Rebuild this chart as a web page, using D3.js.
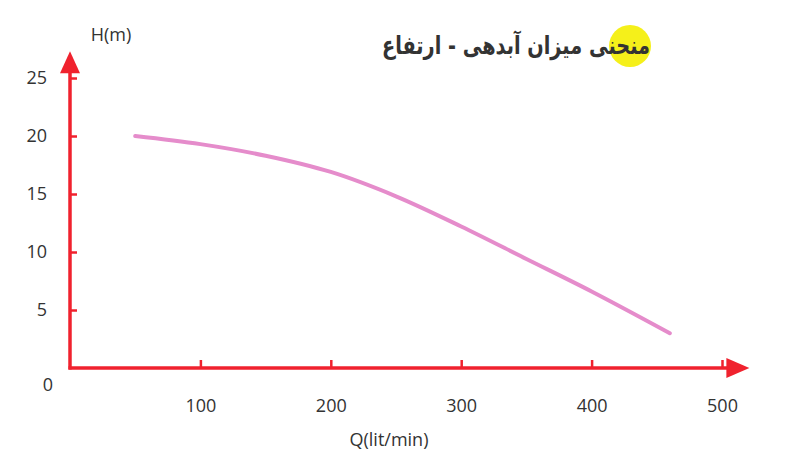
<!DOCTYPE html>
<html>
<head>
<meta charset="utf-8">
<script src="https://cdn.jsdelivr.net/npm/d3@7"></script>
<style>
  body { margin: 0; background: #fff; }
  svg text { font-family: "Open Sans", "Liberation Sans", sans-serif; fill: #333; }
</style>
</head>
<body>
<svg id="chart" width="787" height="462"></svg>
<script>
// pump curve
var flow = [50, 100, 150, 200, 250, 300, 350, 400, 460];
var head = [20, 19.3, 18.3, 16.9, 14.8, 12.2, 9.4, 6.6, 3.0];
var xTicks = [100, 200, 300, 400, 500];
var yTicks = [5, 10, 15, 20, 25];
var title = "منحنی میزان آبدهی - ارتفاع";

var svg = d3.select("#chart");
var red = "#f0222e";

var x = d3.scaleLinear().domain([0, 500]).range([70, 722]);
var y = d3.scaleLinear().domain([0, 25]).range([368, 78]);

// axes
svg.append("g")
    .attr("transform", "translate(" + x(0) + ",0)")
    .call(d3.axisLeft(y).tickValues(yTicks).tickSizeInner(-7).tickSizeOuter(0).tickPadding(23))
    .call(g => g.select(".domain").remove())
    .call(g => g.selectAll("line").attr("stroke", red).attr("stroke-width", 2.5))
    .call(g => g.selectAll("text").style("font-size", "18px").attr("fill", "#333"));

svg.append("g")
    .attr("transform", "translate(0," + y(0) + ")")
    .call(d3.axisBottom(x).tickValues(xTicks).tickSizeInner(-8).tickSizeOuter(0).tickPadding(31))
    .call(g => g.select(".domain").remove())
    .call(g => g.selectAll("line").attr("stroke", red).attr("stroke-width", 2.5))
    .call(g => g.selectAll("text").style("font-size", "18px").attr("fill", "#333"));

// axis lines with arrow heads
var x0 = x(0), y0 = y(0);
var yTop = y(27.3), xEnd = x(521);
svg.append("line").attr("x1", x0).attr("y1", y0 + 1.5).attr("x2", x0).attr("y2", yTop + 18)
    .attr("stroke", red).attr("stroke-width", 3.5);
svg.append("line").attr("x1", x0 - 1.5).attr("y1", y0).attr("x2", xEnd - 18).attr("y2", y0)
    .attr("stroke", red).attr("stroke-width", 3.5);
svg.append("path")
    .attr("d", "M" + x0 + "," + yTop + "L" + (x0 - 10) + "," + (yTop + 22) + "L" + (x0 + 10) + "," + (yTop + 22) + "Z")
    .attr("fill", red);
svg.append("path")
    .attr("d", "M" + xEnd + "," + y0 + "L" + (xEnd - 23) + "," + (y0 - 10) + "L" + (xEnd - 23) + "," + (y0 + 10) + "Z")
    .attr("fill", red);

svg.append("text").attr("x", 48).attr("y", 391).attr("text-anchor", "middle")
    .style("font-size", "18px").text("0");
svg.append("text").attr("x", 111).attr("y", 41).attr("text-anchor", "middle")
    .style("font-size", "18px").text("H(m)");
svg.append("text").attr("x", 389).attr("y", 446).attr("text-anchor", "middle")
    .style("font-size", "18px").text("Q(lit/min)");

// curve
var pts = flow.map((q, i) => [q, head[i]]);
svg.append("path")
    .datum(pts)
    .attr("d", d3.line().x(d => x(d[0])).y(d => y(d[1])).curve(d3.curveCatmullRom))
    .attr("fill", "none")
    .attr("stroke", "#e58ccb")
    .attr("stroke-width", 4)
    .attr("stroke-linecap", "round");

// title with yellow marker
svg.append("circle").attr("cx", 630).attr("cy", 46).attr("r", 21).attr("fill", "#f5f01a");
svg.append("text")
    .attr("x", 650).attr("y", 54)
    .attr("text-anchor", "end")
    .attr("textLength", 268)
    .attr("lengthAdjust", "spacingAndGlyphs")
    .style("font-family", "'DejaVu Sans', sans-serif")
    .style("font-weight", "bold")
    .style("font-size", "25px")
    .attr("fill", "#111")
    .text(title);
</script>
</body>
</html>
